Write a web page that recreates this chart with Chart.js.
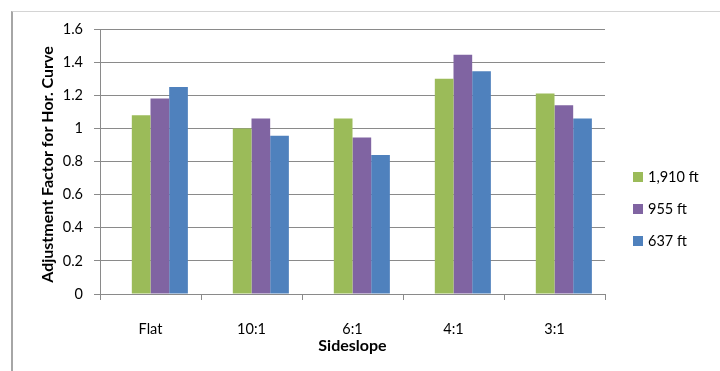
<!DOCTYPE html>
<html>
<head>
<meta charset="utf-8">
<script src="https://cdn.jsdelivr.net/npm/chart.js@4.4.1/dist/chart.umd.min.js"></script>
<style>
  html, body { margin: 0; padding: 0; background: #ffffff; }
  #wrap { width: 720px; height: 371px; position: relative; overflow: hidden; }
  /* outer frame of the chart object, running off the right and bottom edges */
  #frame {
    position: absolute; left: 11px; top: 11px; width: 760px; height: 400px;
    border-top: 1px solid #d4d4d4; border-left: 2px solid #a6a6a6;
    box-sizing: border-box; pointer-events: none;
  }
  #c { position: absolute; left: 0; top: 0; }
</style>
</head>
<body>
<div id="wrap"><div id="frame"></div><canvas id="c" width="720" height="371"></canvas></div>
<script>
// Adjustment factor for horizontal curve by sideslope and curve radius
const categories = ['Flat', '10:1', '6:1', '4:1', '3:1'];
const seriesLabels = ['1,910 ft', '955 ft', '637 ft'];
// leading empty series keeps its slot in each group, so the bars sit right of centre
const emptySlot = [null, null, null, null, null];
const radius1910 = [1.08, 1.00, 1.06, 1.30, 1.21];
const radius955  = [1.18, 1.06, 0.945, 1.445, 1.14];
const radius637  = [1.25, 0.955, 0.84, 1.345, 1.06];
const seriesColors = ['#9BBB59', '#8064A2', '#4F81BD'];
const yMin = 0, yMax = 1.6, yStep = 0.2;
const yTitle = 'Adjustment Factor for Hor. Curve';
const xTitle = 'Sideslope';

const FONT = 'Lato, "Open Sans", "Liberation Sans", sans-serif';
const GRID = '#8a8a8a';
const TEXT = '#000000';

// Vertical axis title beside the tick labels, and the legend on the right
// built from the dataset labels and colours
const sidePlugin = {
  id: 'sideText',
  afterDraw(chart) {
    const ctx = chart.ctx;
    const area = chart.chartArea;

    ctx.save();
    ctx.setTransform(1, 0, 0, 1, 0, 0);
    ctx.translate(48, (area.top + area.bottom) / 2 + 3);
    ctx.rotate(-Math.PI / 2);
    ctx.font = 'bold 16px ' + FONT;
    ctx.fillStyle = TEXT;
    ctx.textAlign = 'center';
    ctx.textBaseline = 'middle';
    ctx.fillText(yTitle, 0, 0);
    ctx.restore();

    ctx.save();
    ctx.setTransform(1, 0, 0, 1, 0, 0);
    ctx.font = '14.5px ' + FONT;
    ctx.textBaseline = 'middle';
    ctx.textAlign = 'left';
    const items = chart.data.datasets.filter(ds => ds.label);
    items.forEach((ds, i) => {
      const cy = 177 + i * 32;
      ctx.fillStyle = ds.backgroundColor;
      ctx.fillRect(633, cy - 5, 10, 10);
      ctx.fillStyle = TEXT;
      ctx.fillText(ds.label, 648, cy + 0.5);
    });
    ctx.restore();
  }
};

new Chart(document.getElementById('c'), {
  type: 'bar',
  data: {
    labels: categories,
    datasets: [
      { label: '', data: emptySlot, backgroundColor: 'rgba(0,0,0,0)' },
      { label: seriesLabels[0], data: radius1910, backgroundColor: seriesColors[0] },
      { label: seriesLabels[1], data: radius955,  backgroundColor: seriesColors[1] },
      { label: seriesLabels[2], data: radius637,  backgroundColor: seriesColors[2] }
    ]
  },
  options: {
    responsive: false,
    animation: false,
    devicePixelRatio: 1,
    categoryPercentage: 0.74,
    barPercentage: 1.0,
    layout: { padding: { left: 39, right: 115, top: 29, bottom: 0 } },
    plugins: {
      legend: { display: false },
      tooltip: { enabled: false }
    },
    scales: {
      y: {
        min: yMin,
        max: yMax,
        afterFit(scale) { scale.width = 61; },
        ticks: {
          stepSize: yStep,
          padding: 11,
          color: TEXT,
          font: { family: FONT, size: 14.5 },
          format: { minimumFractionDigits: 0, maximumFractionDigits: 1 }
        },
        grid: { color: GRID, lineWidth: 1, tickLength: 6, tickColor: GRID },
        border: { color: GRID, width: 1 },
        title: { display: false }
      },
      x: {
        afterFit(scale) { scale.height = 77; },
        ticks: {
          padding: 21,
          color: TEXT,
          font: { family: FONT, size: 14.5 }
        },
        grid: { display: true, drawOnChartArea: false, offset: true, tickLength: 6, tickColor: GRID },
        border: { color: GRID, width: 1 },
        title: {
          display: true,
          text: xTitle,
          color: TEXT,
          font: { family: FONT, size: 16, weight: 'bold' },
          padding: { top: 0, bottom: 16 }
        }
      }
    }
  },
  plugins: [sidePlugin]
});
</script>
</body>
</html>
